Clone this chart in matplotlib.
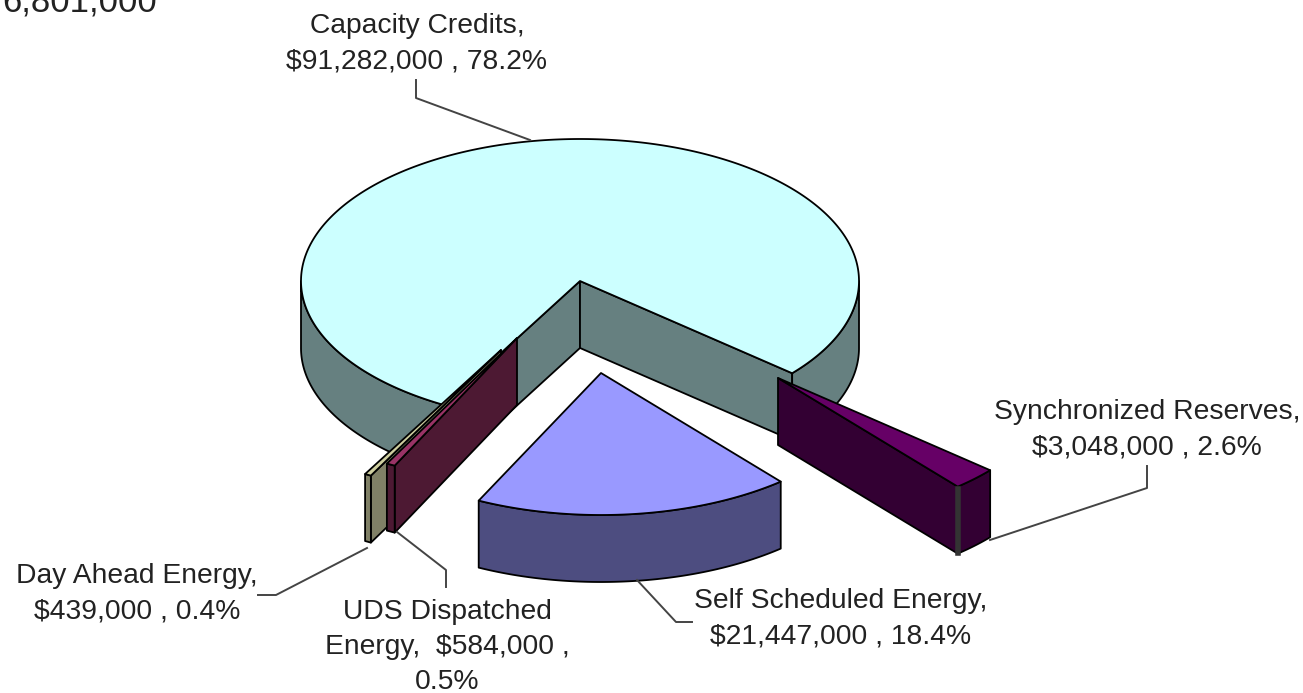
import numpy as np
import matplotlib
matplotlib.use("Agg")
import matplotlib.pyplot as plt
from matplotlib.patches import Polygon

plt.rcParams["font.family"] = ["Liberation Sans", "DejaVu Sans"]

# clockwise from the first angle, same order as the slices in the picture
names = ["Synchronized Reserves", "Self Scheduled Energy", "UDS Dispatched Energy",
         "Day Ahead Energy", "Capacity Credits"]
values = [3048000, 21447000, 584000, 439000, 91282000]
percents = ["2.6%", "18.4%", "0.5%", "0.4%", "78.2%"]
label_text = [
    "Synchronized Reserves,\n$3,048,000 , 2.6%",
    "Self Scheduled Energy,\n$21,447,000 , 18.4%",
    "UDS Dispatched\nEnergy,  $584,000 ,\n0.5%",
    "Day Ahead Energy,\n$439,000 , 0.4%",
    "Capacity Credits,\n$91,282,000 , 78.2%",
]
top_cols = ["#660066", "#9999FF", "#993366", "#CFCFA0", "#CCFFFF"]
wall_cols = ["#330033", "#4D4D80", "#4D1933", "#808066", "#668080"]

# pie geometry, in picture pixels
CX, CY, RX, RY, DEPTH = 580, 281, 279, 142, 67
START = -40.5
OFFSETS = [(198, 97), (21, 92), (-63, 57), (-79, 69), (0, 0)]
DRAW_ORDER = [4, 3, 2, 0, 1]
LABEL_POS = [(1147, 430), (841, 619), (447, 647), (137, 594), (417, 44)]
LEADERS = [
    [(1147, 466), (1147, 488), (990, 540)],
    [(637, 580), (676, 622), (692, 622)],
    [(397, 532), (446, 570), (446, 587)],
    [(367, 548), (276, 595), (258, 595)],
    [(416, 80), (416, 98), (530, 140)],
]


def rim(a0, a1, ox, oy, drop=0):
    t = np.radians(np.linspace(a0, a1, max(int(abs(a1 - a0)) * 2, 2)))
    return np.column_stack([CX + ox + RX * np.cos(t), CY + oy - RY * np.sin(t) + drop])


def face(ax, pts, col):
    ax.add_patch(Polygon(pts, closed=True, fc=col, ec="black", lw=1.3, joinstyle="round"))


def draw_slice(ax, a0, a1, off, top, wall):
    ox, oy = off
    apex = np.array([[CX + ox, CY + oy]])
    down = np.array([0, DEPTH])
    # side faces that turn towards the viewer
    for ang, shows in ((a0, np.cos(np.radians(a0)) < 0), (a1, np.cos(np.radians(a1)) > 0)):
        if shows:
            tip = rim(ang, ang, ox, oy)[:1]
            face(ax, np.vstack([apex, tip, tip + down, apex + down]), wall)
    # outer wall, front half only
    for k in (0, -1):
        hi, lo = min(a0, 360 * k), max(a1, 360 * k - 180)
        if hi > lo:
            edge = rim(hi, lo, ox, oy)
            face(ax, np.vstack([edge, (edge + down)[::-1]]), wall)
    face(ax, np.vstack([apex, rim(a0, a1, ox, oy)]), top)


fig = plt.figure(figsize=(13.03, 6.93), dpi=100)
ax = fig.add_axes([0, 0, 1, 1])
ax.set_xlim(0, 1303)
ax.set_ylim(693, 0)
ax.axis("off")

sweeps = np.array(values) / sum(values) * 360
ends = START - np.cumsum(sweeps)
starts = ends + sweeps
for i in DRAW_ORDER:
    draw_slice(ax, starts[i], ends[i], OFFSETS[i], top_cols[i], wall_cols[i])

# the corner of the reserves slice shows as a grey strip
corner = rim(ends[0], ends[0], *OFFSETS[0])[0]
ax.plot([corner[0], corner[0]], [corner[1] + 2, corner[1] + DEPTH - 1], color="#333333", lw=4)

for pts in LEADERS:
    xs, ys = zip(*pts)
    ax.plot(xs, ys, color="#444444", lw=1.4)

for txt, (x, y) in zip(label_text, LABEL_POS):
    ax.text(x, y, txt, ha="center", va="center", fontsize=20.3, color="#222222", linespacing=1.46)

ax.text(2, 11, "6,801,000", ha="left", va="baseline", fontsize=25, color="#222222")

fig.savefig("out.png", dpi=100)
